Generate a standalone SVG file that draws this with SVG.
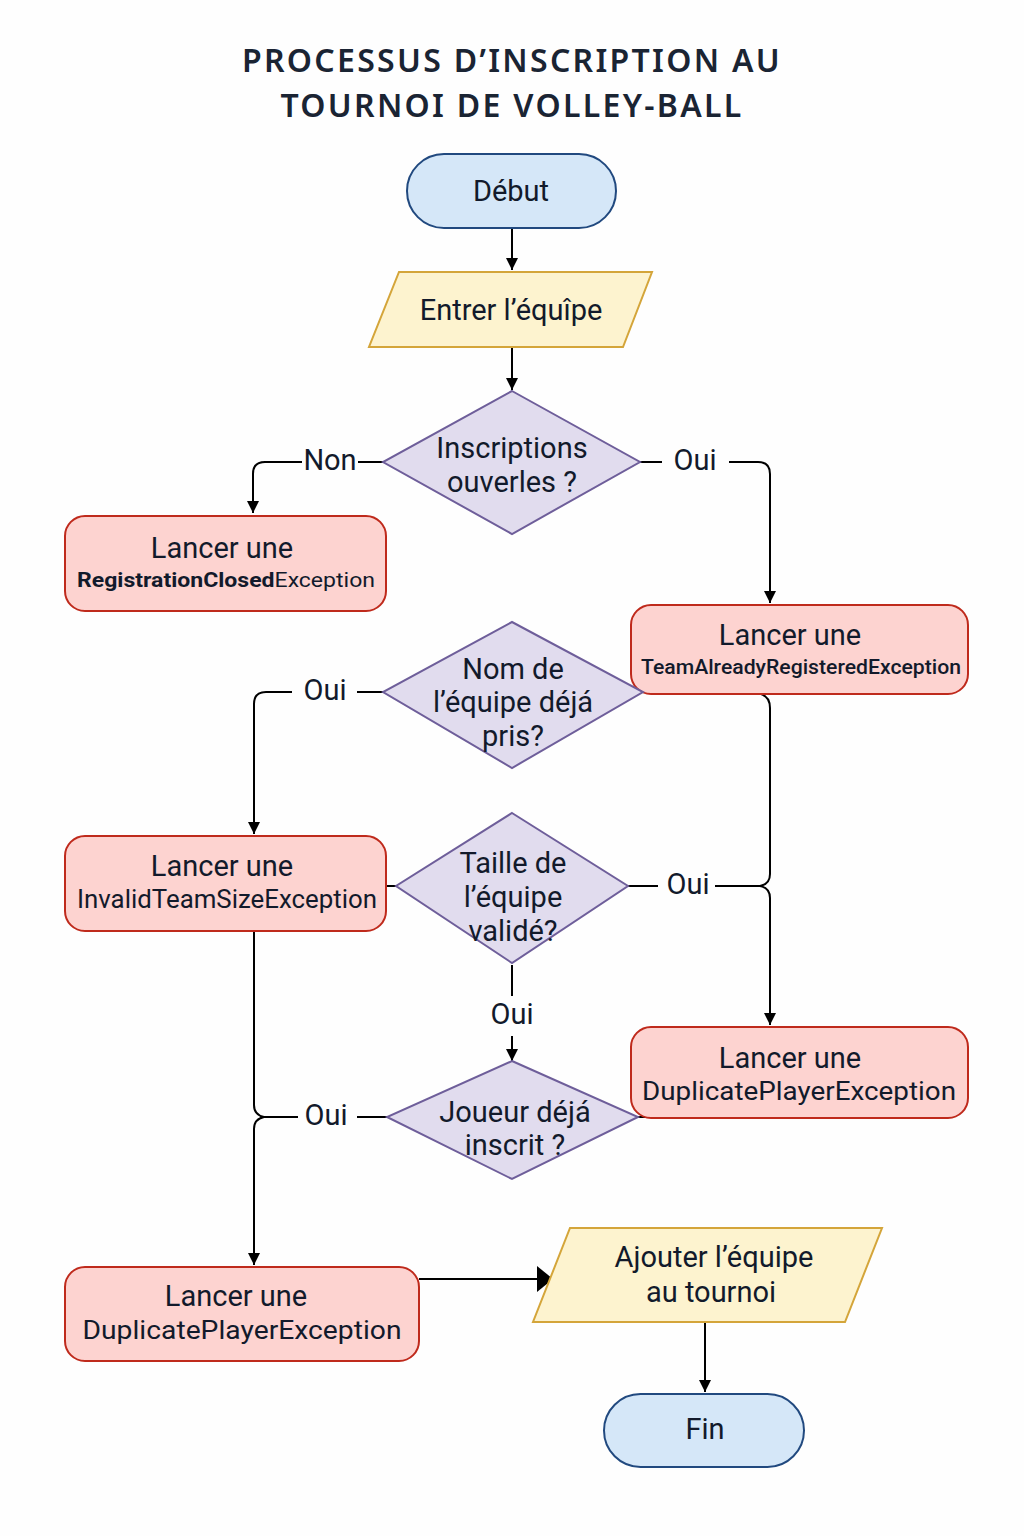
<svg xmlns="http://www.w3.org/2000/svg" width="1024" height="1536" viewBox="0 0 1024 1536">
<style>
text{font-family:Roboto,"Noto Sans","Liberation Sans",sans-serif;fill:#121a2b;text-anchor:middle}
.t{font-size:29px}
.title{font-family:"Noto Sans","Open Sans",sans-serif;font-size:32px;font-weight:600;letter-spacing:2.3px;fill:#1a2433}
.term{fill:#d5e7f8;stroke:#21497f;stroke-width:2}
.io{fill:#fdf3cf;stroke:#d4a53a;stroke-width:2}
.dec{fill:#e1dcee;stroke:#6e5e9a;stroke-width:2}
.err{fill:#fdd3d0;stroke:#bf2a1c;stroke-width:2}
.c{fill:none;stroke:#000;stroke-width:2}
.ex{font-size:20px}
.ex2{font-size:25px}
</style>
<defs>
<marker id="ah" viewBox="0 0 12 12" refX="12" refY="6" markerWidth="13" markerHeight="12" markerUnits="userSpaceOnUse" orient="auto">
<path d="M0,0 L12,6 L0,12 z" fill="#000"/>
</marker>
<marker id="ahb" viewBox="0 0 16 26" refX="16" refY="13" markerWidth="16" markerHeight="26" markerUnits="userSpaceOnUse" orient="auto">
<path d="M0,0 L16,13 L0,26 z" fill="#000"/>
</marker>
</defs>
<rect width="1024" height="1536" fill="#fefefe"/>
<g id="title">
<text class="title" x="512" y="72">PROCESSUS D’INSCRIPTION AU</text>
<text class="title" x="512" y="117">TOURNOI DE VOLLEY-BALL</text>
</g>
<g id="connectors">
<path class="c" d="M512 228 V270" marker-end="url(#ah)"/>
<path class="c" d="M512 347 V390" marker-end="url(#ah)"/>
<path class="c" d="M383 462 H358"/>
<path class="c" d="M302 462 H265 Q253 462 253 474 V513" marker-end="url(#ah)"/>
<text class="t" x="330" y="470">Non</text>
<path class="c" d="M640 462 H662"/>
<path class="c" d="M729 462 H758 Q770 462 770 474 V603" marker-end="url(#ah)"/>
<text class="t" x="695" y="470">Oui</text>
<path class="c" d="M383 692 H357"/>
<path class="c" d="M292 692 H266 Q254 692 254 704 V834" marker-end="url(#ah)"/>
<text class="t" x="325" y="700">Oui</text>
<path class="c" d="M761 694 Q770 697 770 708 V874 Q770 884 760 886"/>
<path class="c" d="M628 886 H658"/>
<path class="c" d="M715 886 H760"/>
<path class="c" d="M760 886 Q770 888 770 898 V1025" marker-end="url(#ah)"/>
<text class="t" x="688" y="894">Oui</text>
<path class="c" d="M386 886 H396"/>
<path class="c" d="M512 965 V996"/>
<text class="t" x="512" y="1024">Oui</text>
<path class="c" d="M512 1036 V1061" marker-end="url(#ah)"/>
<path class="c" d="M638 1117 H648"/>
<path class="c" d="M254 931 V1105 Q254 1115 264 1117"/>
<path class="c" d="M264 1117 H298"/>
<text class="t" x="326" y="1125">Oui</text>
<path class="c" d="M357 1117 H387"/>
<path class="c" d="M264 1117 Q254 1119 254 1129 V1265" marker-end="url(#ah)"/>
<path class="c" d="M419 1279 H553" marker-end="url(#ahb)"/>
<path class="c" d="M705 1322 V1392" marker-end="url(#ah)"/>
</g>
<g id="debut">
<rect class="term" x="407" y="154" width="209" height="74" rx="37"/>
<text class="t" x="511" y="201">Début</text>
</g>
<g id="entrer">
<polygon class="io" points="399,272 652,272 623,347 369,347"/>
<text class="t" x="511" y="320">Entrer l’équîpe</text>
</g>
<g id="d1">
<polygon class="dec" points="512,391 640,462 512,534 383,462"/>
<text class="t" x="512" y="458">Inscriptions</text>
<text class="t" x="512" y="492">ouverles ?</text>
</g>
<g id="e1">
<rect class="err" x="65" y="516" width="321" height="95" rx="20"/>
<text class="t" x="222" y="558">Lancer une</text>
<text class="ex" x="226" y="587" textLength="298" lengthAdjust="spacingAndGlyphs"><tspan font-weight="700">RegistrationClosed</tspan>Exception</text>
</g>
<g id="e2">
<rect class="err" x="631" y="605" width="337" height="89" rx="20"/>
<text class="t" x="790" y="645">Lancer une</text>
<text class="ex" x="801" y="674" font-weight="500" textLength="320" lengthAdjust="spacingAndGlyphs">TeamAlreadyRegisteredException</text>
</g>
<g id="d2">
<polygon class="dec" points="512,622 643,692 512,768 383,692"/>
<text class="t" x="513" y="679">Nom de</text>
<text class="t" x="513" y="712">l’équipe déjá</text>
<text class="t" x="513" y="746">pris?</text>
</g>
<g id="e3">
<rect class="err" x="65" y="836" width="321" height="95" rx="20"/>
<text class="t" x="222" y="876">Lancer une</text>
<text class="ex2" x="227" y="908" textLength="300" lengthAdjust="spacingAndGlyphs">InvalidTeamSizeException</text>
</g>
<g id="d3">
<polygon class="dec" points="512,813 628,886 512,963 396,886"/>
<text class="t" x="513" y="873">Taille de</text>
<text class="t" x="513" y="907">l’équipe</text>
<text class="t" x="513" y="941">validé?</text>
</g>
<g id="e4">
<rect class="err" x="631" y="1027" width="337" height="91" rx="20"/>
<text class="t" x="790" y="1068">Lancer une</text>
<text class="ex2" x="799" y="1100" textLength="314" lengthAdjust="spacingAndGlyphs">DuplicatePlayerException</text>
</g>
<g id="d4">
<polygon class="dec" points="512,1061 638,1117 512,1179 387,1117"/>
<text class="t" x="515" y="1122">Joueur déjá</text>
<text class="t" x="515" y="1155">inscrit ?</text>
</g>
<g id="e5">
<rect class="err" x="65" y="1267" width="354" height="94" rx="20"/>
<text class="t" x="236" y="1306">Lancer une</text>
<text class="ex2" x="242" y="1339" textLength="319" lengthAdjust="spacingAndGlyphs">DuplicatePlayerException</text>
</g>
<g id="ajouter">
<polygon class="io" points="570,1228 882,1228 845,1322 533,1322"/>
<text class="t" x="714" y="1267">Ajouter l’équipe</text>
<text class="t" x="711" y="1302">au tournoi</text>
</g>
<g id="fin">
<rect class="term" x="604" y="1394" width="200" height="73" rx="36.5"/>
<text class="t" x="705" y="1439">Fin</text>
</g>
</svg>
